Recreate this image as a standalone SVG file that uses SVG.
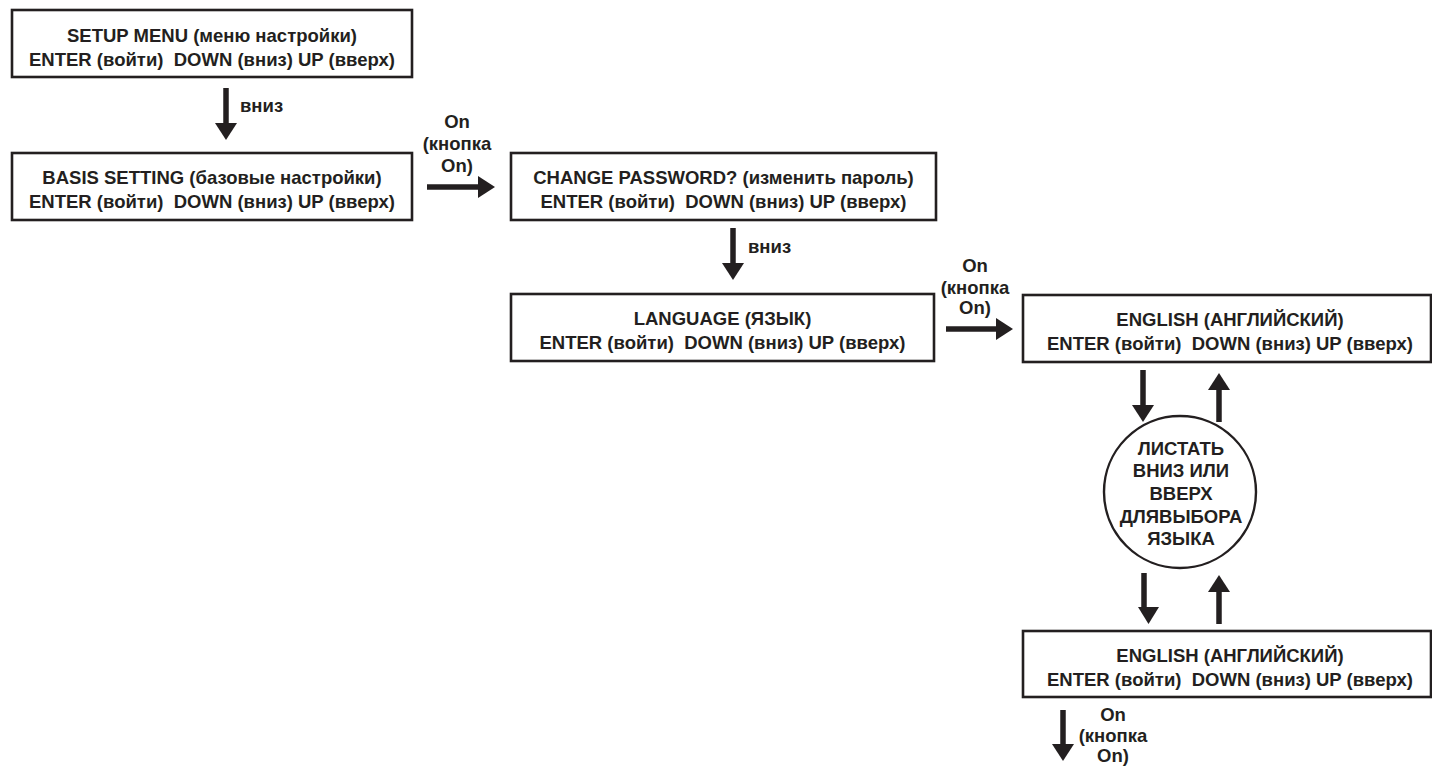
<svg xmlns="http://www.w3.org/2000/svg" width="1432" height="766" viewBox="0 0 1432 766">
<style>
.box{fill:#fff;stroke:#231f20;stroke-width:2.6}
.circ{fill:#fff;stroke:#231f20;stroke-width:2.4}
text{font-family:"Liberation Sans",Arial,sans-serif;font-weight:bold;font-size:18.5px;fill:#231f20;white-space:pre}
.c{text-anchor:middle}
.ln{stroke:#231f20;stroke-width:5.5;fill:none}
.hd{fill:#231f20}
</style>
<defs>
<marker id="ah" markerUnits="userSpaceOnUse" markerWidth="18" markerHeight="22" refX="7" refY="11" orient="auto" viewBox="0 0 18 22">
<path d="M0,0 L17,11 L0,22 Z" fill="#231f20"/>
</marker>
</defs>
<rect width="1432" height="766" fill="#fff"/>
<g id="n1">
<rect class="box" x="12" y="10" width="400" height="67"/>
<text class="c" x="212" y="42">SETUP MENU (меню настройки)</text>
<text class="c" x="212" y="66" xml:space="preserve">ENTER (войти)  DOWN (вниз) UP (вверх)</text>
</g>
<g id="n2">
<rect class="box" x="12" y="153" width="400" height="67"/>
<text class="c" x="212" y="184">BASIS SETTING (базовые настройки)</text>
<text class="c" x="212" y="208" xml:space="preserve">ENTER (войти)  DOWN (вниз) UP (вверх)</text>
</g>
<g id="n3">
<rect class="box" x="511" y="153" width="425" height="67"/>
<text class="c" x="723.5" y="184">CHANGE PASSWORD? (изменить пароль)</text>
<text class="c" x="723.5" y="208" xml:space="preserve">ENTER (войти)  DOWN (вниз) UP (вверх)</text>
</g>
<g id="n4">
<rect class="box" x="511" y="294" width="423" height="67"/>
<text class="c" x="722.5" y="325">LANGUAGE (ЯЗЫК)</text>
<text class="c" x="722.5" y="349" xml:space="preserve">ENTER (войти)  DOWN (вниз) UP (вверх)</text>
</g>
<g id="n5">
<rect class="box" x="1023" y="295" width="408" height="67"/>
<text class="c" x="1230" y="326">ENGLISH (АНГЛИЙСКИЙ)</text>
<text class="c" x="1230" y="350" xml:space="preserve">ENTER (войти)  DOWN (вниз) UP (вверх)</text>
</g>
<g id="n6">
<circle class="circ" cx="1180" cy="492" r="76"/>
<text class="c" x="1181" y="455">ЛИСТАТЬ</text>
<text class="c" x="1181" y="477">ВНИЗ ИЛИ</text>
<text class="c" x="1181" y="500">ВВЕРХ</text>
<text class="c" x="1181" y="523">ДЛЯВЫБОРА</text>
<text class="c" x="1181" y="545">ЯЗЫКА</text>
</g>
<g id="n7">
<rect class="box" x="1023" y="631" width="408" height="66"/>
<text class="c" x="1230" y="662">ENGLISH (АНГЛИЙСКИЙ)</text>
<text class="c" x="1230" y="686" xml:space="preserve">ENTER (войти)  DOWN (вниз) UP (вверх)</text>
</g>
<g id="connectors">
<line class="ln" x1="226" y1="88" x2="226" y2="130" marker-end="url(#ah)"/>
<text x="240" y="112">вниз</text>
<line class="ln" x1="427" y1="187" x2="485" y2="187" marker-end="url(#ah)"/>
<text class="c" x="457" y="128">On</text>
<text class="c" x="457" y="150">(кнопка</text>
<text class="c" x="457" y="172">On)</text>
<line class="ln" x1="733" y1="228" x2="733" y2="270" marker-end="url(#ah)"/>
<text x="748" y="253">вниз</text>
<line class="ln" x1="946" y1="329" x2="1003" y2="329" marker-end="url(#ah)"/>
<text class="c" x="975" y="272">On</text>
<text class="c" x="975" y="294">(кнопка</text>
<text class="c" x="975" y="314">On)</text>
<line class="ln" x1="1143" y1="370" x2="1143" y2="412" marker-end="url(#ah)"/>
<line class="ln" x1="1219" y1="422" x2="1219" y2="383" marker-end="url(#ah)"/>
<line class="ln" x1="1144" y1="573" x2="1144" y2="612"/>
<path class="hd" d="M1138,607 L1159,607 L1148.5,624 Z"/>
<line class="ln" x1="1219" y1="624" x2="1219" y2="585" marker-end="url(#ah)"/>
<line class="ln" x1="1063" y1="710" x2="1063" y2="751" marker-end="url(#ah)"/>
<text class="c" x="1113" y="721">On</text>
<text class="c" x="1113" y="742">(кнопка</text>
<text class="c" x="1113" y="762">On)</text>
</g>
</svg>
